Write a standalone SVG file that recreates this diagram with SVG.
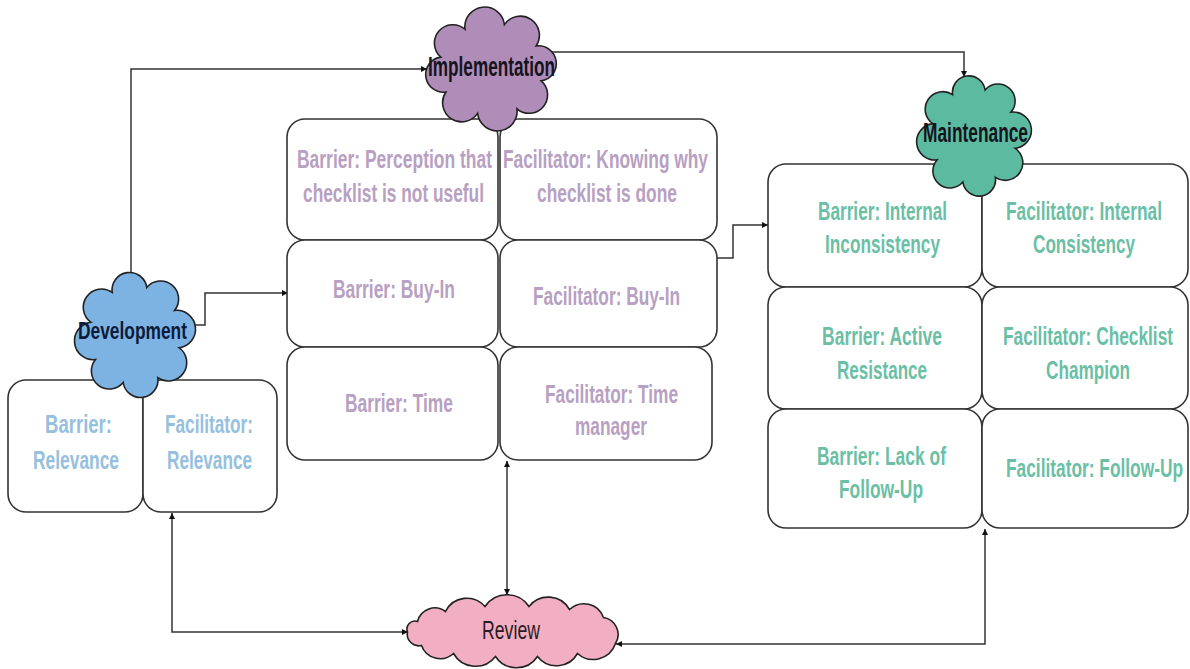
<svg xmlns="http://www.w3.org/2000/svg" width="1190" height="669" viewBox="0 0 1190 669">
<defs>
<marker id="arr" viewBox="0 0 10 10" refX="10" refY="5" markerWidth="6" markerHeight="6" orient="auto-start-reverse" markerUnits="userSpaceOnUse">
<path d="M0,0 L10,5 L0,10 Z" fill="#111"/>
</marker>
<style>
.box{fill:#fff;stroke:#333;stroke-width:1.6}
.cloud{stroke:#222;stroke-width:1.6}
.conn{fill:none;stroke:#333;stroke-width:1.5}
text{font-family:"Liberation Sans Narrow","Liberation Sans",Arial,sans-serif;font-weight:bold;text-anchor:middle}
.t{font-size:26px}
.imp{fill:#b8a0c2}
.mai{fill:#6bbfa5}
.dev{fill:#96c0de}
.lbl{fill:#141420}
</style>
</defs>
<rect width="1190" height="669" fill="#fff"/>

<g id="connectors">
<path class="conn" d="M131,290 L131,69 L427,69" marker-end="url(#arr)"/>
<path class="conn" d="M545,52 L964,52 L964,77" marker-end="url(#arr)"/>
<path class="conn" d="M185,325 L205,325 L205,293 L288,293" marker-end="url(#arr)"/>
<path class="conn" d="M717,258 L733,258 L733,225 L768,225" marker-end="url(#arr)"/>
<path class="conn" d="M507,461 L507,595" marker-start="url(#arr)" marker-end="url(#arr)"/>
<path class="conn" d="M172,513 L172,632 L408,632" marker-start="url(#arr)" marker-end="url(#arr)"/>
<path class="conn" d="M985,529 L985,644 L616,644" marker-start="url(#arr)" marker-end="url(#arr)"/>
</g>

<g id="impl-boxes">
<g id="impl-barrier-perception"><rect class="box" x="287" y="119" width="211" height="121" rx="18"/>
<text class="t imp" x="394.5" y="168" textLength="195" lengthAdjust="spacingAndGlyphs">Barrier: Perception that</text>
<text class="t imp" x="393.5" y="202" textLength="181" lengthAdjust="spacingAndGlyphs">checklist is not useful</text></g>
<g id="impl-facilitator-knowing"><rect class="box" x="500" y="119" width="217" height="121" rx="18"/>
<text class="t imp" x="605.5" y="168" textLength="205" lengthAdjust="spacingAndGlyphs">Facilitator: Knowing why</text>
<text class="t imp" x="607" y="202" textLength="140" lengthAdjust="spacingAndGlyphs">checklist is done</text></g>
<g id="impl-barrier-buyin"><rect class="box" x="287" y="240" width="211" height="107" rx="18"/>
<text class="t imp" x="394" y="298" textLength="122" lengthAdjust="spacingAndGlyphs">Barrier: Buy-In</text></g>
<g id="impl-facilitator-buyin"><rect class="box" x="500" y="240" width="217" height="107" rx="18"/>
<text class="t imp" x="606.5" y="305" textLength="147" lengthAdjust="spacingAndGlyphs">Facilitator: Buy-In</text></g>
<g id="impl-barrier-time"><rect class="box" x="287" y="347" width="211" height="113" rx="18"/>
<text class="t imp" x="399" y="412" textLength="108" lengthAdjust="spacingAndGlyphs">Barrier: Time</text></g>
<g id="impl-facilitator-time"><rect class="box" x="500" y="347" width="212" height="113" rx="18"/>
<text class="t imp" x="611.5" y="403" textLength="133" lengthAdjust="spacingAndGlyphs">Facilitator: Time</text>
<text class="t imp" x="611" y="435" textLength="72" lengthAdjust="spacingAndGlyphs">manager</text></g>
</g>

<g id="maint-boxes">
<g id="maint-barrier-internal"><rect class="box" x="768" y="164" width="214" height="123" rx="18"/>
<text class="t mai" x="882.5" y="220" textLength="129" lengthAdjust="spacingAndGlyphs">Barrier: Internal</text>
<text class="t mai" x="882.5" y="253" textLength="115" lengthAdjust="spacingAndGlyphs">Inconsistency</text></g>
<g id="maint-facilitator-internal"><rect class="box" x="982" y="164" width="206" height="123" rx="18"/>
<text class="t mai" x="1084" y="220" textLength="156" lengthAdjust="spacingAndGlyphs">Facilitator: Internal</text>
<text class="t mai" x="1084" y="253" textLength="102" lengthAdjust="spacingAndGlyphs">Consistency</text></g>
<g id="maint-barrier-active"><rect class="box" x="768" y="287" width="214" height="122" rx="18"/>
<text class="t mai" x="882" y="345" textLength="120" lengthAdjust="spacingAndGlyphs">Barrier: Active</text>
<text class="t mai" x="882" y="379" textLength="90" lengthAdjust="spacingAndGlyphs">Resistance</text></g>
<g id="maint-facilitator-champion"><rect class="box" x="982" y="287" width="206" height="122" rx="18"/>
<text class="t mai" x="1088" y="345" textLength="170" lengthAdjust="spacingAndGlyphs">Facilitator: Checklist</text>
<text class="t mai" x="1088" y="379" textLength="84" lengthAdjust="spacingAndGlyphs">Champion</text></g>
<g id="maint-barrier-followup"><rect class="box" x="768" y="409" width="214" height="119" rx="18"/>
<text class="t mai" x="881.5" y="465" textLength="129" lengthAdjust="spacingAndGlyphs">Barrier: Lack of</text>
<text class="t mai" x="881" y="498" textLength="84" lengthAdjust="spacingAndGlyphs">Follow-Up</text></g>
<g id="maint-facilitator-followup"><rect class="box" x="982" y="409" width="206" height="119" rx="18"/>
<text class="t mai" x="1094.5" y="477" textLength="177" lengthAdjust="spacingAndGlyphs">Facilitator: Follow-Up</text></g>
</g>

<g id="dev-boxes">
<g id="dev-barrier-relevance"><rect class="box" x="8" y="380" width="135" height="132" rx="18"/>
<text class="t dev" x="78.5" y="433" textLength="67" lengthAdjust="spacingAndGlyphs">Barrier:</text>
<text class="t dev" x="76" y="469" textLength="86" lengthAdjust="spacingAndGlyphs">Relevance</text></g>
<g id="dev-facilitator-relevance"><rect class="box" x="143" y="380" width="134" height="132" rx="18"/>
<text class="t dev" x="209" y="433" textLength="88" lengthAdjust="spacingAndGlyphs">Facilitator:</text>
<text class="t dev" x="209.5" y="469" textLength="85" lengthAdjust="spacingAndGlyphs">Relevance</text></g>
</g>

<g id="implementation">
<path class="cloud" fill="#b08cb8" d="M504.4,24.6 A1,1 0 0 1 536.1,46 A1,1 0 0 1 541.2,80.9 A1,1 0 0 1 517,108.8 A1,1 0 0 1 477.6,113.4 A1,1 0 0 1 445.9,92 A1,1 0 0 1 440.8,57.1 A1,1 0 0 1 465,29.2 A1,1 0 0 1 504.4,24.6 Z"/>
<text class="lbl" x="491.5" y="76" font-size="28" textLength="127" lengthAdjust="spacingAndGlyphs">Implementation</text>
</g>

<g id="maintenance">
<path class="cloud" fill="#5cbaa0" d="M985.1,89.9 A1,1 0 0 1 1011,112.1 A1,1 0 0 1 1015.2,148.4 A1,1 0 0 1 995.4,177.3 A1,1 0 0 1 962.9,182.1 A1,1 0 0 1 937,159.9 A1,1 0 0 1 932.8,123.6 A1,1 0 0 1 952.6,94.7 A1,1 0 0 1 985.1,89.9 Z"/>
<text class="lbl" x="975.5" y="142" font-size="27" textLength="105" lengthAdjust="spacingAndGlyphs">Maintenance</text>
</g>

<g id="development">
<path class="cloud" fill="#7db3e3" d="M146.8,287.5 A1,1 0 0 1 174.5,310.4 A1,1 0 0 1 179,347.7 A1,1 0 0 1 157.8,377.6 A1,1 0 0 1 123.2,382.5 A1,1 0 0 1 95.5,359.6 A1,1 0 0 1 91,322.3 A1,1 0 0 1 112.2,292.4 A1,1 0 0 1 146.8,287.5 Z"/>
<text x="132.5" y="339" font-size="23" fill="#0e1a3a" textLength="109" lengthAdjust="spacingAndGlyphs">Development</text>
</g>

<g id="review">
<path class="cloud" fill="#f2afc4" d="M615.5,643.5 A17.2,17.2 0 0 0 603.5,617.5 A20.9,20.9 0 0 0 569.5,609.5 A24.4,24.4 0 0 0 529,606.5 A26.4,26.4 0 0 0 485,606.5 A23.9,23.9 0 0 0 445.5,611.5 A17.8,17.8 0 0 0 417.5,621.5 A8,8 0 0 0 407.5,632 A11.6,11.6 0 0 0 421.5,645.5 A19.8,19.8 0 0 0 453.5,653.5 A25.3,25.3 0 0 0 495.5,656.5 A25.2,25.2 0 0 0 537.5,656.5 A24.1,24.1 0 0 0 577.5,653.5 A23.6,23.6 0 0 0 615.5,643.5 Z"/>
<text x="511" y="639" font-size="25" fill="#2a1a22" style="font-weight:normal" textLength="58" lengthAdjust="spacingAndGlyphs">Review</text>
</g>
</svg>
